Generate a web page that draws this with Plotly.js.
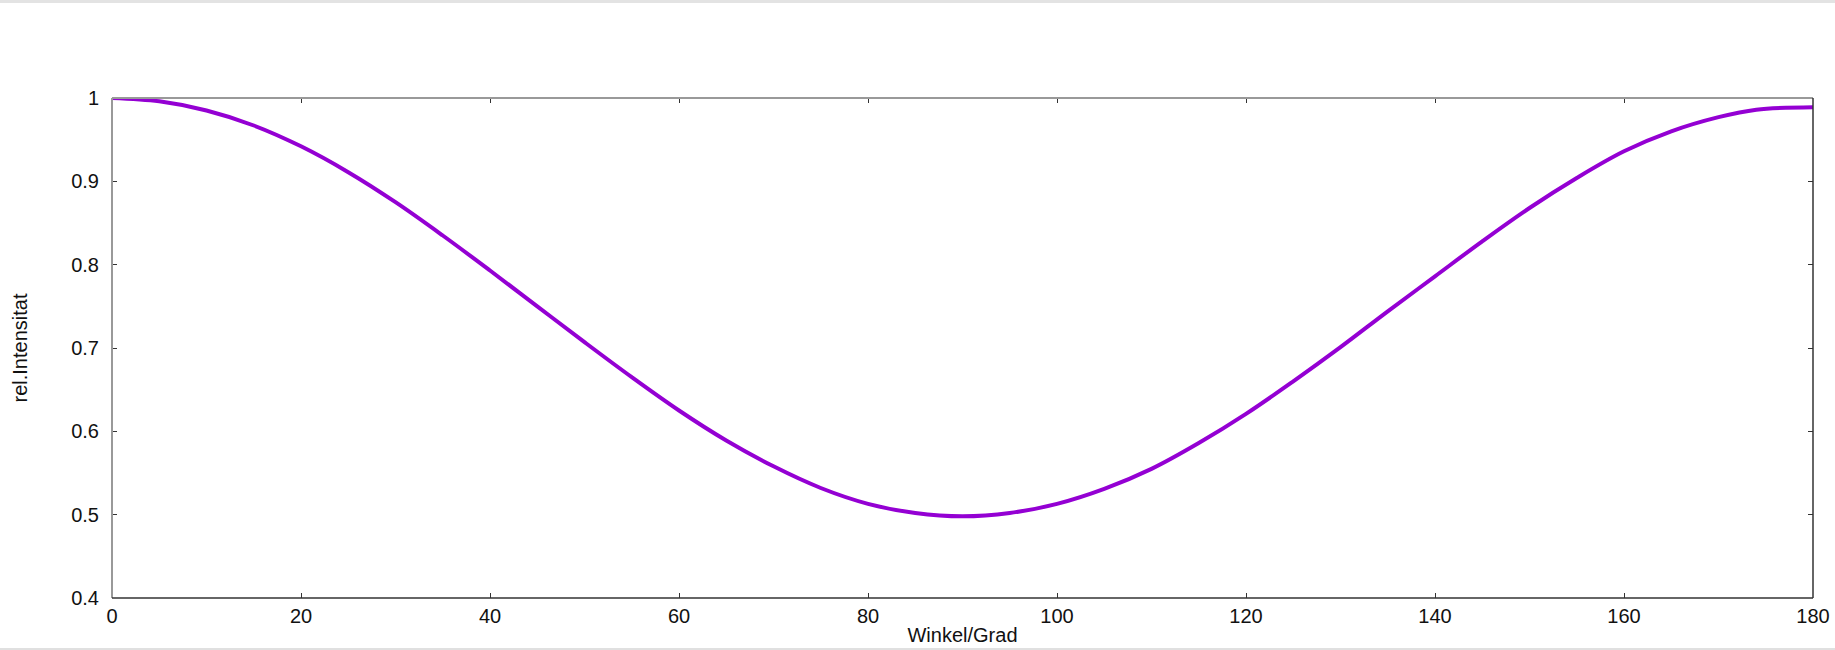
<!DOCTYPE html>
<html>
<head>
<meta charset="utf-8">
<script src="https://cdn.plot.ly/plotly-3.0.1.min.js"></script>
<style>
html,body{margin:0;padding:0;background:#fff;}
#chart{width:1835px;height:650px;}
</style>
</head>
<body>
<div id="chart"></div>
<script>
const winkel = [0,5,10,15,20,25,30,35,40,45,50,55,60,65,70,75,80,85,90,95,100,105,110,115,120,125,130,135,140,145,150,155,160,165,170,174,180];
const intensitaet = [1.000,0.996,0.985,0.967,0.942,0.911,0.875,0.835,0.793,0.750,0.707,0.665,0.625,0.589,0.558,0.532,0.513,0.502,0.498,0.502,0.513,0.531,0.555,0.586,0.621,0.660,0.701,0.744,0.786,0.828,0.868,0.904,0.936,0.960,0.977,0.986,0.989];
const xTicks = [0,20,40,60,80,100,120,140,160,180];
const yTicks = [0.4,0.5,0.6,0.7,0.8,0.9,1];
const yTickText = ['0.4','0.5','0.6','0.7','0.8','0.9','1'];
const xTitle = 'Winkel/Grad';
const yTitle = 'rel.Intensitat';

const font = {family:'"Liberation Sans", Arial, sans-serif', size:20, color:'#111'};
const trace = {
  x: winkel, y: intensitaet, type:'scatter', mode:'lines',
  line:{color:'#9400D3', width:4, shape:'spline', smoothing:1},
  hoverinfo:'x+y', cliponaxis:false
};
const layout = {
  width:1835, height:650,
  margin:{l:112, r:22, t:98, b:52},
  paper_bgcolor:'#fff', plot_bgcolor:'#fff',
  showlegend:false,
  font: font,
  xaxis:{
    range:[0,180], tickvals:xTicks, ticktext:xTicks.map(String),
    ticks:'inside', ticklen:5, tickcolor:'#333', tickwidth:1,
    mirror:'ticks', showline:false, showgrid:false, zeroline:false,
    tickfont:font, ticklabelstandoff:4,
    title:{text:xTitle, font:font, standoff:1}
  },
  yaxis:{
    range:[0.4,1], tickvals:yTicks, ticktext:yTickText,
    ticks:'inside', ticklen:5, tickcolor:'#333', tickwidth:1,
    mirror:'ticks', showline:false, showgrid:false, zeroline:false,
    tickfont:font, ticklabelstandoff:12,
    title:{text:yTitle, font:font, standoff:38}
  },
  shapes:[
    {type:'line', xref:'paper', yref:'paper', x0:0, x1:0, y0:0, y1:1, line:{color:'#999', width:2}},
    {type:'line', xref:'paper', yref:'paper', x0:0, x1:1, y0:1, y1:1, line:{color:'#999', width:2}},
    {type:'line', xref:'paper', yref:'paper', x0:0, x1:1, y0:0, y1:0, line:{color:'#333', width:1.5}},
    {type:'line', xref:'paper', yref:'paper', x0:1, x1:1, y0:0, y1:1, line:{color:'#333', width:1.5}},
    {type:'rect', xref:'paper', yref:'paper', x0:-0.07, x1:1.02, y0:1.19, y1:1.196, fillcolor:'#e3e3e3', line:{width:0}, layer:'below'},
    {type:'line', xref:'paper', yref:'paper', x0:-0.07, x1:1.02, y0:-0.102, y1:-0.102, line:{color:'#e0e0e0', width:2}}
  ]
};
Plotly.newPlot('chart', [trace], layout, {displayModeBar:false, staticPlot:true});
</script>
</body>
</html>
